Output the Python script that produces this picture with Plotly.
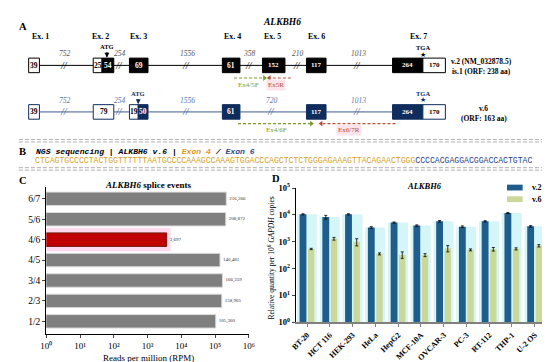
import plotly.graph_objects as go

# ---------------- data ----------------
# Panel C
splice_events = ["1/2", "2/3", "3/4", "4/5", "4/6", "5/6", "6/7"]
splice_rpm = [105360, 158965, 166359, 140481, 3697, 208872, 216266]

# Panel D
cell_lines = ["BT-20", "HCT 116", "HEK-293", "HeLa", "HepG2", "MCF-10A",
              "OVCAR-3", "PC-3", "RT-112", "THP-1", "U-2 OS"]
v2_qty = [10500, 8300, 10500, 3400, 5200, 4000, 5800, 3650, 5800, 11700, 3750]
v2_err = [500, 1300, 500, 250, 250, 250, 400, 250, 300, 600, 250]
v6_qty = [540, 1300, 1000, 355, 330, 320, 570, 500, 530, 545, 710]
v6_err = [30, 150, 300, 30, 90, 40, 150, 40, 80, 50, 70]
series_names = ["v.2", "v.6"]

# Panel A (gene structure)
exon_names = ["Ex. 1", "Ex. 2", "Ex. 3", "Ex. 4", "Ex. 5", "Ex. 6", "Ex. 7"]
v2_seg_len = ["39", "25", "54", "69", "61", "152", "117", "264", "170"]
v2_seg_coding = [False, False, True, True, True, True, True, True, False]
v6_seg_len = ["39", "79", "19", "50", "61", "117", "264", "170"]
v6_seg_coding = [False, False, False, True, True, True, True, False]
v2_intron_len = ["752", "254", "1556", "358", "210", "1013"]
v6_intron_len = ["752", "254", "1556", "720", "1013"]

# Panel B
seq_exon4 = "CTCAGTGCCCCTACTGGTTTTTTAATGCCCCAAAGCCAAAGTGGACCCAGCTCTCTGGGAGAAAGTTACAGAACTGGG"
seq_exon6 = "CCCCACGAGGACGGACCACTGTAC"

# ---------------- schematic layout (drawing positions) ----------------
EXON_HDR_X = [27, 88, 127, 223, 264, 309, 414]
V2_X = [(15, 26), (81, 90), (90, 102), (118, 137), (213, 231), (254, 277),
        (299, 319), (387, 418), (418, 441)]
V6_X = [(15, 26), (81, 102), (118, 127), (127, 137), (213, 231), (299, 319),
        (387, 418), (418, 441)]
V2_INTRON_X = [52, 108, 177, 241, 290, 352]
V6_INTRON_X = [52, 108, 177, 264, 352]
ROW1_Y, ROW2_Y = 53, 101

SERIF = "Liberation Serif"
MONO = "Liberation Mono"
NAVY = "#0f2d5c"
ROW2_LINE = "#3e5b94"
V2_COL = "#1f5d8c"
V6_COL = "#cad89a"

fig = go.Figure()
ann = []


def A(x, y, text, size=8, color="black", bold=False, italic=False, xanchor="center",
      family=SERIF, **kw):
    t = text
    if italic:
        t = "<i>" + t + "</i>"
    if bold:
        t = "<b>" + t + "</b>"
    d = dict(x=x, y=y, xref="x3", yref="y3", text=t, showarrow=False,
             font=dict(size=size, color=color, family=family),
             xanchor=xanchor, yanchor="middle")
    d.update(kw)
    ann.append(d)


def gene_row(xs, lens, coding, y, code_col, edge_col, line_col, intron_lens,
             intron_x, intron_col):
    lx, ly = [], []
    for (s0, e0), (s1, e1) in zip(xs[:-1], xs[1:]):
        if s1 > e0:
            lx += [e0, s1, None]
            ly += [y, y, None]
    fig.add_trace(go.Scatter(x=lx, y=ly, mode="lines", xaxis="x3", yaxis="y3",
                             line=dict(color=line_col, width=1), hoverinfo="skip",
                             showlegend=False))
    fig.add_trace(go.Bar(orientation="h", y=[y] * len(xs),
                         x=[e - s for s, e in xs], base=[s for s, e in xs],
                         width=15, xaxis="x3", yaxis="y3",
                         marker=dict(color=[code_col if c else "white" for c in coding],
                                     line=dict(color=edge_col, width=1)),
                         hoverinfo="skip", showlegend=False))
    for (s, e), L, c in zip(xs, lens, coding):
        A((s + e) / 2, y, L, size=7.5 if len(L) < 3 else 7, bold=True,
          color="white" if c else "black")
    for L, x in zip(intron_lens, intron_x):
        A(x, y - 12, L, size=7.5, italic=True, color=intron_col)
        A(x - 1, y, "//", size=10, italic=True, color=line_col)


gene_row(V2_X, v2_seg_len, v2_seg_coding, ROW1_Y, "black", "black", "black",
         v2_intron_len, V2_INTRON_X, "#555555")
gene_row(V6_X, v6_seg_len, v6_seg_coding, ROW2_Y, NAVY, NAVY, ROW2_LINE,
         v6_intron_len, V6_INTRON_X, "#5b79b0")

A(274, 8, "ALKBH6", size=9.5, bold=True, italic=True)
A(9, 13, "A", size=10.5, bold=True)
for name, x in zip(exon_names, EXON_HDR_X):
    A(x, 23, name, size=8, bold=True)

A(95, 34, "ATG", size=6.5, bold=True)
ann.append(dict(x=95, y=45, ax=95, ay=38, xref="x3", yref="y3", axref="x3", ayref="y3",
                showarrow=True, arrowhead=2, arrowsize=0.8, arrowwidth=1.2,
                arrowcolor="black", text=""))
A(127, 82, "ATG", size=6.5, bold=True, color=NAVY)
ann.append(dict(x=127, y=93, ax=127, ay=86, xref="x3", yref="y3", axref="x3", ayref="y3",
                showarrow=True, arrowhead=2, arrowsize=0.8, arrowwidth=1.2,
                arrowcolor=NAVY, text=""))
A(418, 35, "TGA", size=6.5, bold=True)
A(418, 42, "★", size=7, family="DejaVu Sans")
A(418, 82, "TGA", size=6.5, bold=True, color=NAVY)
A(418, 89, "★", size=7, color=NAVY, family="DejaVu Sans")

A(478, 49, "v.2 (NM_032878.5)", size=7.5, bold=True)
A(478, 59, "is.1 (ORF: 238 aa)", size=7.5, bold=True)
A(480, 97, "v.6", size=7.5, bold=True)
A(480, 108, "(ORF: 163 aa)", size=7.5, bold=True)

GREEN = "#7a9a2a"
RED = "#b5503a"


def primer(x0, x1, y, label, lx, col, bg=None):
    fig.add_trace(go.Scatter(x=[x0, x1], y=[y, y], mode="lines", xaxis="x3", yaxis="y3",
                             line=dict(color=col, width=1.2, dash="3px,2px"),
                             hoverinfo="skip", showlegend=False))
    fig.add_trace(go.Scatter(x=[x1], y=[y], mode="markers", xaxis="x3", yaxis="y3",
                             marker=dict(symbol="triangle-right" if x1 > x0 else "triangle-left",
                                         size=5, color=col),
                             hoverinfo="skip", showlegend=False))
    A(lx, y + 7, label, size=7, color=col, bgcolor=bg)


primer(225, 256, 66, "Ex4/5F", 240, GREEN)
primer(283, 261, 66, "Ex5R", 268, RED, "#fde3ea")
primer(229, 304, 113, "Ex4/6F", 268, GREEN)
primer(390, 314, 113, "Ex6/7R", 342, RED, "#fde3ea")

for yy in (129.5, 132, 158.5, 161):
    fig.add_trace(go.Scatter(x=[5, 545], y=[yy, yy], mode="lines", xaxis="x3", yaxis="y3",
                             line=dict(color="#9a9a9a", width=0.8, dash="4px,2px"),
                             hoverinfo="skip", showlegend=False))

# Panel B
A(9, 142, "B", size=10.5, bold=True)
A(20, 142, "<b><i>NGS sequencing | ALKBH6 v.6 | "
           "<span style='color:#e8921a'>Exon 4</span> / "
           "<span style='color:#2c4a8c'>Exon 6</span></i></b>",
  size=8.1, family=MONO, xanchor="left")
A(19, 151.5, "<span style='color:#d6a21e'>" + seq_exon4 + "</span>"
             "<span style='color:#1f3f86'>" + seq_exon6 + "</span>",
  size=8.15, family=MONO, xanchor="left")

# ---------------- Panel C ----------------
c_colors = ["#c00000" if s == "4/6" else "#7f7f7f" for s in splice_events]
c_lines = ["#6e1a08" if s == "4/6" else "#dcdcdc" for s in splice_events]
fig.add_trace(go.Bar(orientation="h", y=splice_events, x=splice_rpm, xaxis="x", yaxis="y",
                     width=0.66, marker=dict(color=c_colors, line=dict(color=c_lines, width=1)),
                     text=[f"{v:,}" for v in splice_rpm], textposition="outside",
                     textfont=dict(size=5, family=SERIF, color="#333"),
                     cliponaxis=False, showlegend=False, hoverinfo="skip"))

# ---------------- Panel D ----------------
fig.add_trace(go.Bar(x=cell_lines, y=v2_qty, xaxis="x2", yaxis="y2", offset=-0.45, width=0.88,
                     marker=dict(color="#d4f6f8", line=dict(width=0)),
                     showlegend=False, hoverinfo="skip"))
fig.add_trace(go.Bar(x=cell_lines, y=v2_qty, name=series_names[0], xaxis="x2", yaxis="y2",
                     offset=-0.33, width=0.3, marker=dict(color=V2_COL, line=dict(width=0)),
                     error_y=dict(type="data", array=v2_err, color="black", thickness=0.8, width=1.5),
                     showlegend=False))
fig.add_trace(go.Bar(x=cell_lines, y=v6_qty, name=series_names[1], xaxis="x2", yaxis="y2",
                     offset=0.04, width=0.28, marker=dict(color=V6_COL, line=dict(width=0)),
                     error_y=dict(type="data", array=v6_err, color="black", thickness=0.8, width=1.5),
                     showlegend=False))

SUP = "⁰¹²³⁴⁵⁶⁷⁸⁹"
sup = lambda n: f"10<sup>{n}</sup>"
usup = lambda n: "10" + SUP[n]


def P(px, py, text, size=9, **kw):
    d = dict(x=px / 550, y=1 - py / 362, xref="paper", yref="paper", text=text,
             showarrow=False, font=dict(size=size, family=SERIF, color="black"),
             xanchor="center", yanchor="middle")
    d.update(kw)
    ann.append(d)


P(9, 172, "<b>C</b>", size=10.5)
P(268, 170, "<b>D</b>", size=10.5)
P(137, 176, "<b><i>ALKBH6</i> splice events</b>", size=9)
P(420, 177, "<b><i>ALKBH6</i></b>", size=8.5)
P(263, 252, "Relative quantity per 10<sup>6</sup> <i>GAPDH</i> copies", size=7.5, textangle=-90)
P(137, 355, "Reads per million (RPM)", size=9)

shapes = []
for i, (nm, col) in enumerate(zip(series_names, [V2_COL, V6_COL])):
    yc = 179 + 12 * i
    shapes.append(dict(type="rect", xref="paper", yref="paper",
                       x0=504 / 550, x1=520 / 550, y0=1 - (yc + 3) / 362, y1=1 - (yc - 3) / 362,
                       fillcolor=col, line=dict(width=0)))
    P(527, yc, f"<b>{nm}</b>", size=8, xanchor="left")

fig.update_layout(
    width=550, height=362, margin=dict(l=0, r=0, t=0, b=0),
    paper_bgcolor="white", plot_bgcolor="rgba(0,0,0,0)",
    barmode="overlay", annotations=ann, shapes=shapes, showlegend=False,
    font=dict(family=SERIF, color="black"),
    xaxis3=dict(domain=[0, 1], range=[0, 550], visible=False, anchor="y3", fixedrange=True),
    yaxis3=dict(domain=[1 - 165 / 362, 1], range=[165, 0], visible=False, anchor="x3"),
    xaxis=dict(domain=[33 / 550, 240 / 550], type="log", range=[0, 6], anchor="y",
               tickvals=[10 ** i for i in range(7)], ticktext=[usup(i) for i in range(7)],
               showline=True, linecolor="black", linewidth=1, ticks="outside", ticklen=3,
               tickfont=dict(size=9, family=SERIF), showgrid=False, zeroline=False),
    yaxis=dict(domain=[1 - 330 / 362, 1 - 178 / 362], range=[-0.62, 6.6], anchor="x",
               type="category", categoryorder="array", categoryarray=splice_events,
               showline=True, linecolor="black", linewidth=1, ticks="outside", ticklen=3,
               tickfont=dict(size=9.5, family=SERIF), showgrid=False),
    xaxis2=dict(domain=[288 / 550, 544 / 550], anchor="y2", range=[-0.5, 10.5],
                type="category", categoryorder="array", categoryarray=cell_lines,
                showline=True, linecolor="#808080", linewidth=1.6, ticks="outside", ticklen=3,
                tickcolor="#808080", tickangle=-45, tickfont=dict(size=8, family=SERIF),
                showgrid=False,
                ticktext=[f"<b>{c}</b>" for c in cell_lines], tickvals=cell_lines),
    yaxis2=dict(domain=[1 - 318 / 362, 1 - 179.5 / 362], type="log", range=[0, 5], anchor="x2",
                tickvals=[10 ** i for i in range(6)], ticktext=[f"<b>{sup(i)}</b>" for i in range(6)],
                showline=True, linecolor="black", linewidth=1, ticks="outside", ticklen=3,
                tickfont=dict(size=8.5, family=SERIF), showgrid=False, zeroline=False),
)

fig.add_shape(type="rect", xref="x domain", yref="y", x0=0, x1=(160 - 33) / 207,
              y0=splice_events.index("4/6") - 0.57, y1=splice_events.index("4/6") + 0.57,
              fillcolor="#fdd8ef", line=dict(width=0), layer="below")

fig.write_html("out.html")
